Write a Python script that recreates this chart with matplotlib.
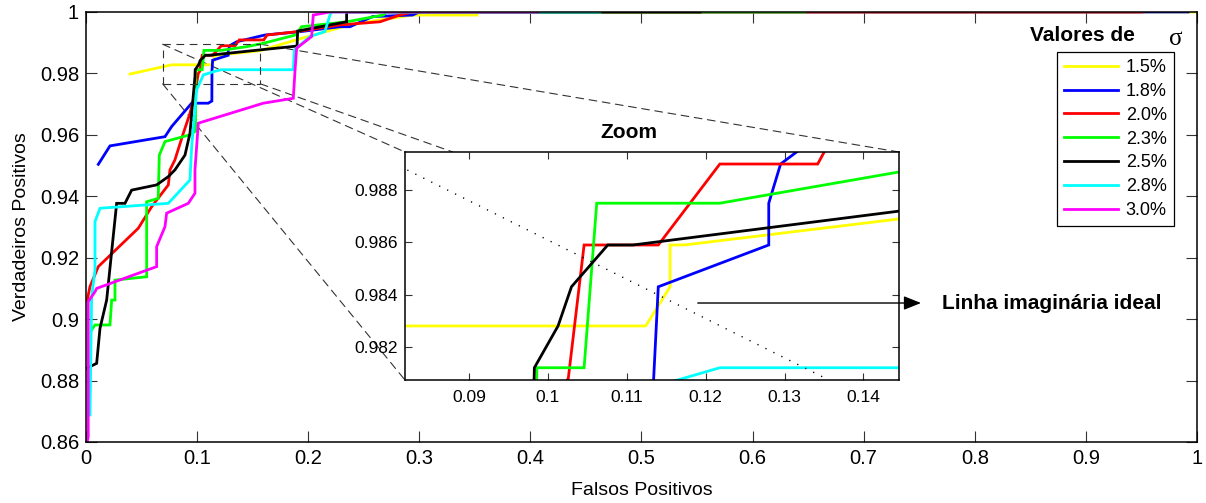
import numpy as np
import matplotlib
matplotlib.use("Agg")
import matplotlib.pyplot as plt
from matplotlib.patches import Rectangle, ConnectionPatch, FancyArrowPatch
from matplotlib.ticker import FuncFormatter

plt.rcParams['font.family'] = ['Liberation Sans', 'DejaVu Sans']

# ROC curves, one per sigma value (false positive rate, true positive rate)
labels = ['1.5%', '1.8%', '2.0%', '2.3%', '2.5%', '2.8%', '3.0%']
colors = ['#FFFF00', '#0000FF', '#FF0000', '#00FF00', '#000000', '#00FFFF', '#FF00FF']

fp_15 = [0.0396, 0.0771, 0.1124, 0.1155, 0.1155, 0.1173, 0.1446, 0.1566, 0.1900, 0.2376, 0.2646, 0.2940, 0.3520, 0.3520, 1.0]
tp_15 = [0.9798, 0.9828, 0.9828, 0.9843, 0.9859, 0.9859, 0.9869, 0.9874, 0.9910, 0.9958, 0.9974, 0.9990, 0.9990, 1.0, 1.0]

fp_18 = [0.0111, 0.0216, 0.0711, 0.0771, 0.0951, 0.1100, 0.1133, 0.1134, 0.1140, 0.1280, 0.1280, 0.1295, 0.1317, 0.1356, 0.1610, 0.1930, 0.2286, 0.2376, 0.2580, 0.2940, 0.3000, 0.9919]
tp_18 = [0.9504, 0.9564, 0.9594, 0.9627, 0.9703, 0.9703, 0.9710, 0.9807, 0.9843, 0.9859, 0.9875, 0.9890, 0.9895, 0.9903, 0.9925, 0.9936, 0.9952, 0.9952, 0.9985, 0.9990, 1.0, 1.0]

fp_20 = [0.0010, 0.0036, 0.0111, 0.0471, 0.0591, 0.0741, 0.0756, 0.0800, 0.0876, 0.0936, 0.0981, 0.1011, 0.1026, 0.1046, 0.1140, 0.1218, 0.1342, 0.1351, 0.1380, 0.1600, 0.1630, 0.1900, 0.2286, 0.2646, 0.2826, 0.2940, 0.9505]
tp_20 = [0.9060, 0.9106, 0.9171, 0.9296, 0.9366, 0.9437, 0.9486, 0.9518, 0.9605, 0.9670, 0.9735, 0.9800, 0.9808, 0.9859, 0.9859, 0.9890, 0.9890, 0.9895, 0.9909, 0.9909, 0.9925, 0.9936, 0.9958, 0.9968, 0.9990, 1.0, 1.0]

fp_23 = [0.0051, 0.0081, 0.0216, 0.0231, 0.0261, 0.0261, 0.0546, 0.0546, 0.0650, 0.0660, 0.0711, 0.0936, 0.0986, 0.0986, 0.1046, 0.1062, 0.1218, 0.1446, 0.1596, 0.1896, 0.1940, 0.2346, 0.2676, 0.2706, 0.6472]
tp_23 = [0.8965, 0.8981, 0.8981, 0.9062, 0.9062, 0.9127, 0.9138, 0.9382, 0.9393, 0.9534, 0.9578, 0.9600, 0.9612, 0.9812, 0.9812, 0.9875, 0.9875, 0.9887, 0.9898, 0.9926, 0.9952, 0.9968, 0.9990, 1.0, 1.0]

fp_25 = [0.0006, 0.0096, 0.0126, 0.0186, 0.0276, 0.0351, 0.0411, 0.0636, 0.0741, 0.0801, 0.0891, 0.0936, 0.0981, 0.0983, 0.1013, 0.1030, 0.1076, 0.1108, 0.1446, 0.1900, 0.1905, 0.2346, 0.2346, 0.5527]
tp_25 = [0.8840, 0.8856, 0.8970, 0.9062, 0.9377, 0.9377, 0.9420, 0.9437, 0.9464, 0.9486, 0.9534, 0.9605, 0.9790, 0.9812, 0.9828, 0.9843, 0.9859, 0.9859, 0.9872, 0.9889, 0.9938, 0.9968, 1.0, 1.0]

fp_28 = [0.0036, 0.0051, 0.0081, 0.0081, 0.0126, 0.0741, 0.0936, 0.0951, 0.0996, 0.1056, 0.1161, 0.1218, 0.1866, 0.1875, 0.2016, 0.2150, 0.2196, 0.2210, 0.4626]
tp_28 = [0.8688, 0.9073, 0.9160, 0.9317, 0.9361, 0.9377, 0.9453, 0.9560, 0.9746, 0.9795, 0.9807, 0.9812, 0.9812, 0.9876, 0.9920, 0.9936, 0.9990, 1.0, 1.0]

fp_30 = [0.0010, 0.0020, 0.0020, 0.0081, 0.0096, 0.0636, 0.0636, 0.0711, 0.0726, 0.0921, 0.0981, 0.0981, 0.1011, 0.1596, 0.1866, 0.1881, 0.1896, 0.2031, 0.2046, 0.2196, 0.4068]
tp_30 = [0.8600, 0.8617, 0.9057, 0.9089, 0.9100, 0.9171, 0.9236, 0.9301, 0.9345, 0.9377, 0.9410, 0.9486, 0.9638, 0.9703, 0.9719, 0.9806, 0.9882, 0.9920, 0.9990, 1.0, 1.0]

fp_series = [fp_15, fp_18, fp_20, fp_23, fp_25, fp_28, fp_30]
tp_series = [tp_15, tp_18, tp_20, tp_23, tp_25, tp_28, tp_30]

# ideal reference line shown in the zoomed view
ideal_fp = [0.0822, 0.1351]
ideal_tp = [0.98877, 0.98081]

# zoomed region marked on the main axes, and limits of the zoom axes
box_fp = (0.069, 0.157)
box_tp = (0.9766, 0.9895)
zoom_xlim = (0.0819, 0.1445)
zoom_ylim = (0.98073, 0.98946)

main_xticks = np.round(np.arange(0, 1.0001, 0.1), 2)
main_yticks = np.round(np.arange(0.86, 1.0001, 0.02), 2)
zoom_xticks = [0.09, 0.10, 0.11, 0.12, 0.13, 0.14]
zoom_yticks = [0.982, 0.984, 0.986, 0.988]

fmt = FuncFormatter(lambda v, p: f"{round(v, 4):g}")

fig = plt.figure(figsize=(12.06, 5.03), dpi=100)
ax = fig.add_axes([0.0713, 0.1213, 0.9212, 0.8549])

lines = []
for fp, tp, c, lab in zip(fp_series, tp_series, colors, labels):
    ln, = ax.plot(fp, tp, color=c, lw=2.0, label=lab, solid_joinstyle='miter')
    lines.append(ln)

ax.set_xlim(0, 1)
ax.set_ylim(0.86, 1)
ax.set_xticks(main_xticks)
ax.set_yticks(main_yticks)
ax.xaxis.set_major_formatter(fmt)
ax.yaxis.set_major_formatter(fmt)
ax.tick_params(direction='in', length=8, width=0.8, top=True, right=True,
               labelsize=14.5, pad=5, color='0.2')
for s in ax.spines.values():
    s.set_linewidth(1.1)
ax.set_xlabel('Falsos Positivos', fontsize=14)
ax.set_ylabel('Verdadeiros Positivos', fontsize=14)
ax.xaxis.set_label_coords(0.5, -0.092)
ax.yaxis.set_label_coords(-0.050, 0.5)

# dashed box around the zoomed region
ax.add_patch(Rectangle((box_fp[0], box_tp[0]), box_fp[1] - box_fp[0], box_tp[1] - box_tp[0],
                       fill=False, ls=(0, (7, 5)), lw=0.8, ec='0.2', zorder=5))

# zoom axes
axins = fig.add_axes([0.3358, 0.2445, 0.4096, 0.4533], zorder=2)
for fp, tp, c in zip(fp_series, tp_series, colors):
    axins.plot(fp, tp, color=c, lw=2.0, solid_joinstyle='miter')
axins.plot(ideal_fp, ideal_tp, color='k', lw=1.0, ls=(0, (0.9, 5.5)))
axins.set_xlim(*zoom_xlim)
axins.set_ylim(*zoom_ylim)
axins.set_xticks(zoom_xticks)
axins.set_yticks(zoom_yticks)
axins.xaxis.set_major_formatter(fmt)
axins.yaxis.set_major_formatter(fmt)
axins.tick_params(direction='in', length=5, width=0.8, top=True, right=True,
                  labelsize=12.5, pad=5, color='0.2')
axins.tick_params(axis='x', pad=7.5)
for s in axins.spines.values():
    s.set_linewidth(1.1)
fig.text(0.5216, 0.7366, 'Zoom', fontsize=15, fontweight='bold', ha='center', va='center')

# dashed connectors from the box to the zoom axes
connectors = [((box_fp[0], box_tp[1]), (0.0, 1.0)),
              ((box_fp[1], box_tp[1]), (1.0, 1.0)),
              ((box_fp[1], box_tp[0]), (0.097, 1.0)),
              ((box_fp[0], box_tp[0]), (0.0, 0.0))]
for pa, pb in connectors:
    cp = ConnectionPatch(xyA=pa, coordsA=ax.transData, xyB=pb, coordsB=axins.transAxes,
                         ls=(0, (7, 5)), lw=0.8, color='0.2')
    ax.add_artist(cp)

# annotation arrow for the ideal line
arrow = FancyArrowPatch((0.5763, 0.3976), (0.7660, 0.3976), transform=fig.transFigure,
                        arrowstyle='-|>,head_length=0.75,head_width=0.3', mutation_scale=14,
                        lw=1.0, color='k', zorder=5)
fig.add_artist(arrow)
fig.text(0.781, 0.3976, 'Linha imaginária ideal', fontsize=15, fontweight='bold',
         ha='left', va='center')

# legend
leg = ax.legend(handles=lines, loc='upper left', bbox_to_anchor=(0.8765, 0.8966),
                bbox_transform=fig.transFigure, fontsize=13, handlelength=3.0,
                handletextpad=0.4, labelspacing=0.375, borderpad=0.4, borderaxespad=0,
                fancybox=False, framealpha=1, edgecolor='k')
leg.get_frame().set_linewidth(0.9)
leg.set_zorder(10)
fig.text(0.854, 0.930, 'Valores de', fontsize=15, fontweight='bold', ha='left', va='center')
fig.text(0.975, 0.922, 'σ', fontsize=18, family=['Liberation Serif', 'DejaVu Serif'],
         ha='center', va='center')

fig.savefig('out.png', dpi=100)
